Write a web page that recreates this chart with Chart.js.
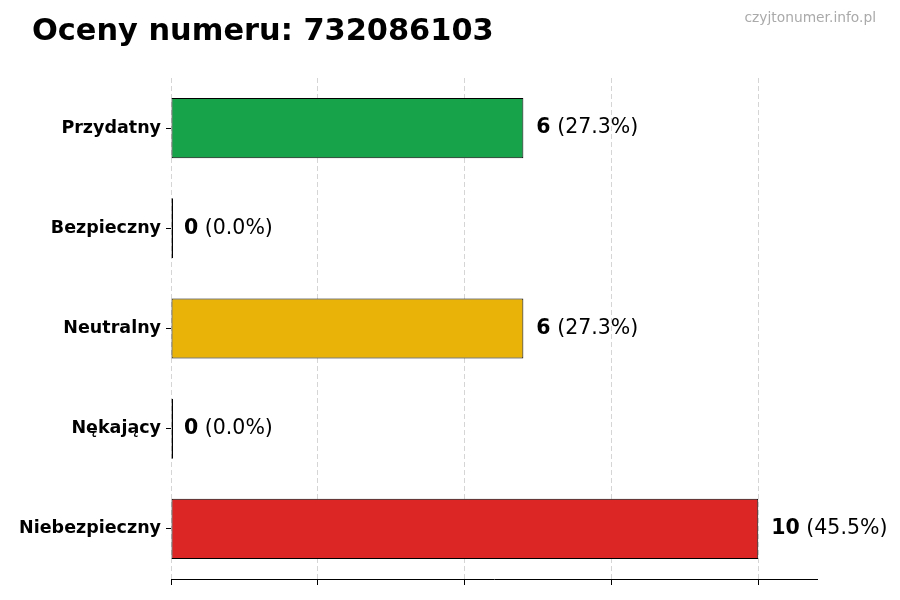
<!DOCTYPE html>
<html>
<head>
<meta charset="utf-8">
<script src="https://cdn.jsdelivr.net/npm/chart.js@4.4.1/dist/chart.umd.min.js"></script>
<style>
  body { margin: 0; background: #fff; }
  #wrap { position: relative; width: 900px; height: 600px; }
</style>
</head>
<body>
<div id="wrap"><canvas id="myChart" width="900" height="600"></canvas></div>
<script>
var kategorie = ['Przydatny', 'Bezpieczny', 'Neutralny', 'Nękający', 'Niebezpieczny'];
var liczby = [6, 0, 6, 0, 10];
var procenty = ['27.3%', '0.0%', '27.3%', '0.0%', '45.5%'];
var kolory = ['#16a34a', '#2563eb', '#eab308', '#f97316', '#dc2626'];
var podzialkiX = [0, 2.5, 5, 7.5, 10];
var maksX = 11;

var tytul = 'Oceny numeru: 732086103';
var znakWodny = 'czyjtonumer.info.pl';
var font = "'DejaVu Sans', sans-serif";

// napisy przy slupkach + tytul
var napisy = {
  id: 'napisy',
  afterDraw: function(chart) {
    var ctx = chart.ctx;
    ctx.save();
    ctx.fillStyle = '#000';
    ctx.textBaseline = 'alphabetic';
    ctx.textAlign = 'left';
    ctx.font = 'bold 30.4px ' + font;
    ctx.fillText(tytul, 32, 40);

    ctx.fillStyle = '#aaaaaa';
    ctx.textAlign = 'right';
    ctx.font = '13.8px ' + font;
    ctx.fillText(znakWodny, 876, 22);

    var meta = chart.getDatasetMeta(0);
    ctx.textAlign = 'left';
    ctx.textBaseline = 'middle';
    ctx.fillStyle = '#000';
    for (var i = 0; i < meta.data.length; i++) {
      var bar = meta.data[i];
      var x = chart.scales.x.getPixelForValue(liczby[i]) + 13;
      var y = bar.y;
      ctx.font = 'bold 20.5px ' + font;
      var s1 = String(liczby[i]);
      ctx.fillText(s1, x, y);
      var w = ctx.measureText(s1).width;
      ctx.font = '20.5px ' + font;
      ctx.fillText(' (' + procenty[i] + ')', x + w, y);
    }
    ctx.restore();
  }
};

var ctx = document.getElementById('myChart');
var chart = new Chart(ctx, {
  type: 'bar',
  data: {
    labels: kategorie,
    datasets: [{
      data: liczby,
      backgroundColor: kolory,
      borderColor: '#000',
      borderWidth: 1,
      borderSkipped: false,
      minBarLength: 2,
      barPercentage: 0.6,
      categoryPercentage: 1
    }]
  },
  options: {
    indexAxis: 'y',
    responsive: false,
    animation: false,
    layout: { padding: { top: 78, right: 83, bottom: 15, left: 0 } },
    plugins: {
      legend: { display: false },
      tooltip: { enabled: false }
    },
    scales: {
      x: {
        min: 0,
        max: maksX,
        z: 1,
        afterBuildTicks: function(scale) {
          scale.ticks = podzialkiX.map(function(v) { return { value: v }; });
        },
        ticks: { display: false },
        grid: {
          color: 'rgba(150,150,150,0.4)',
          tickColor: '#000',
          tickLength: 6,
          lineWidth: 1
        },
        border: { display: true, color: '#000', width: 1, dash: [5, 3] }
      },
      y: {
        afterFit: function(scale) { scale.width = 171; },
        grid: {
          offset: false,
          drawOnChartArea: false,
          tickColor: '#000',
          tickLength: 5
        },
        border: { display: false },
        ticks: {
          color: '#000',
          padding: 5,
          font: { family: font, size: 17.5, weight: 'bold' }
        }
      }
    }
  },
  plugins: [napisy]
});
</script>
</body>
</html>
